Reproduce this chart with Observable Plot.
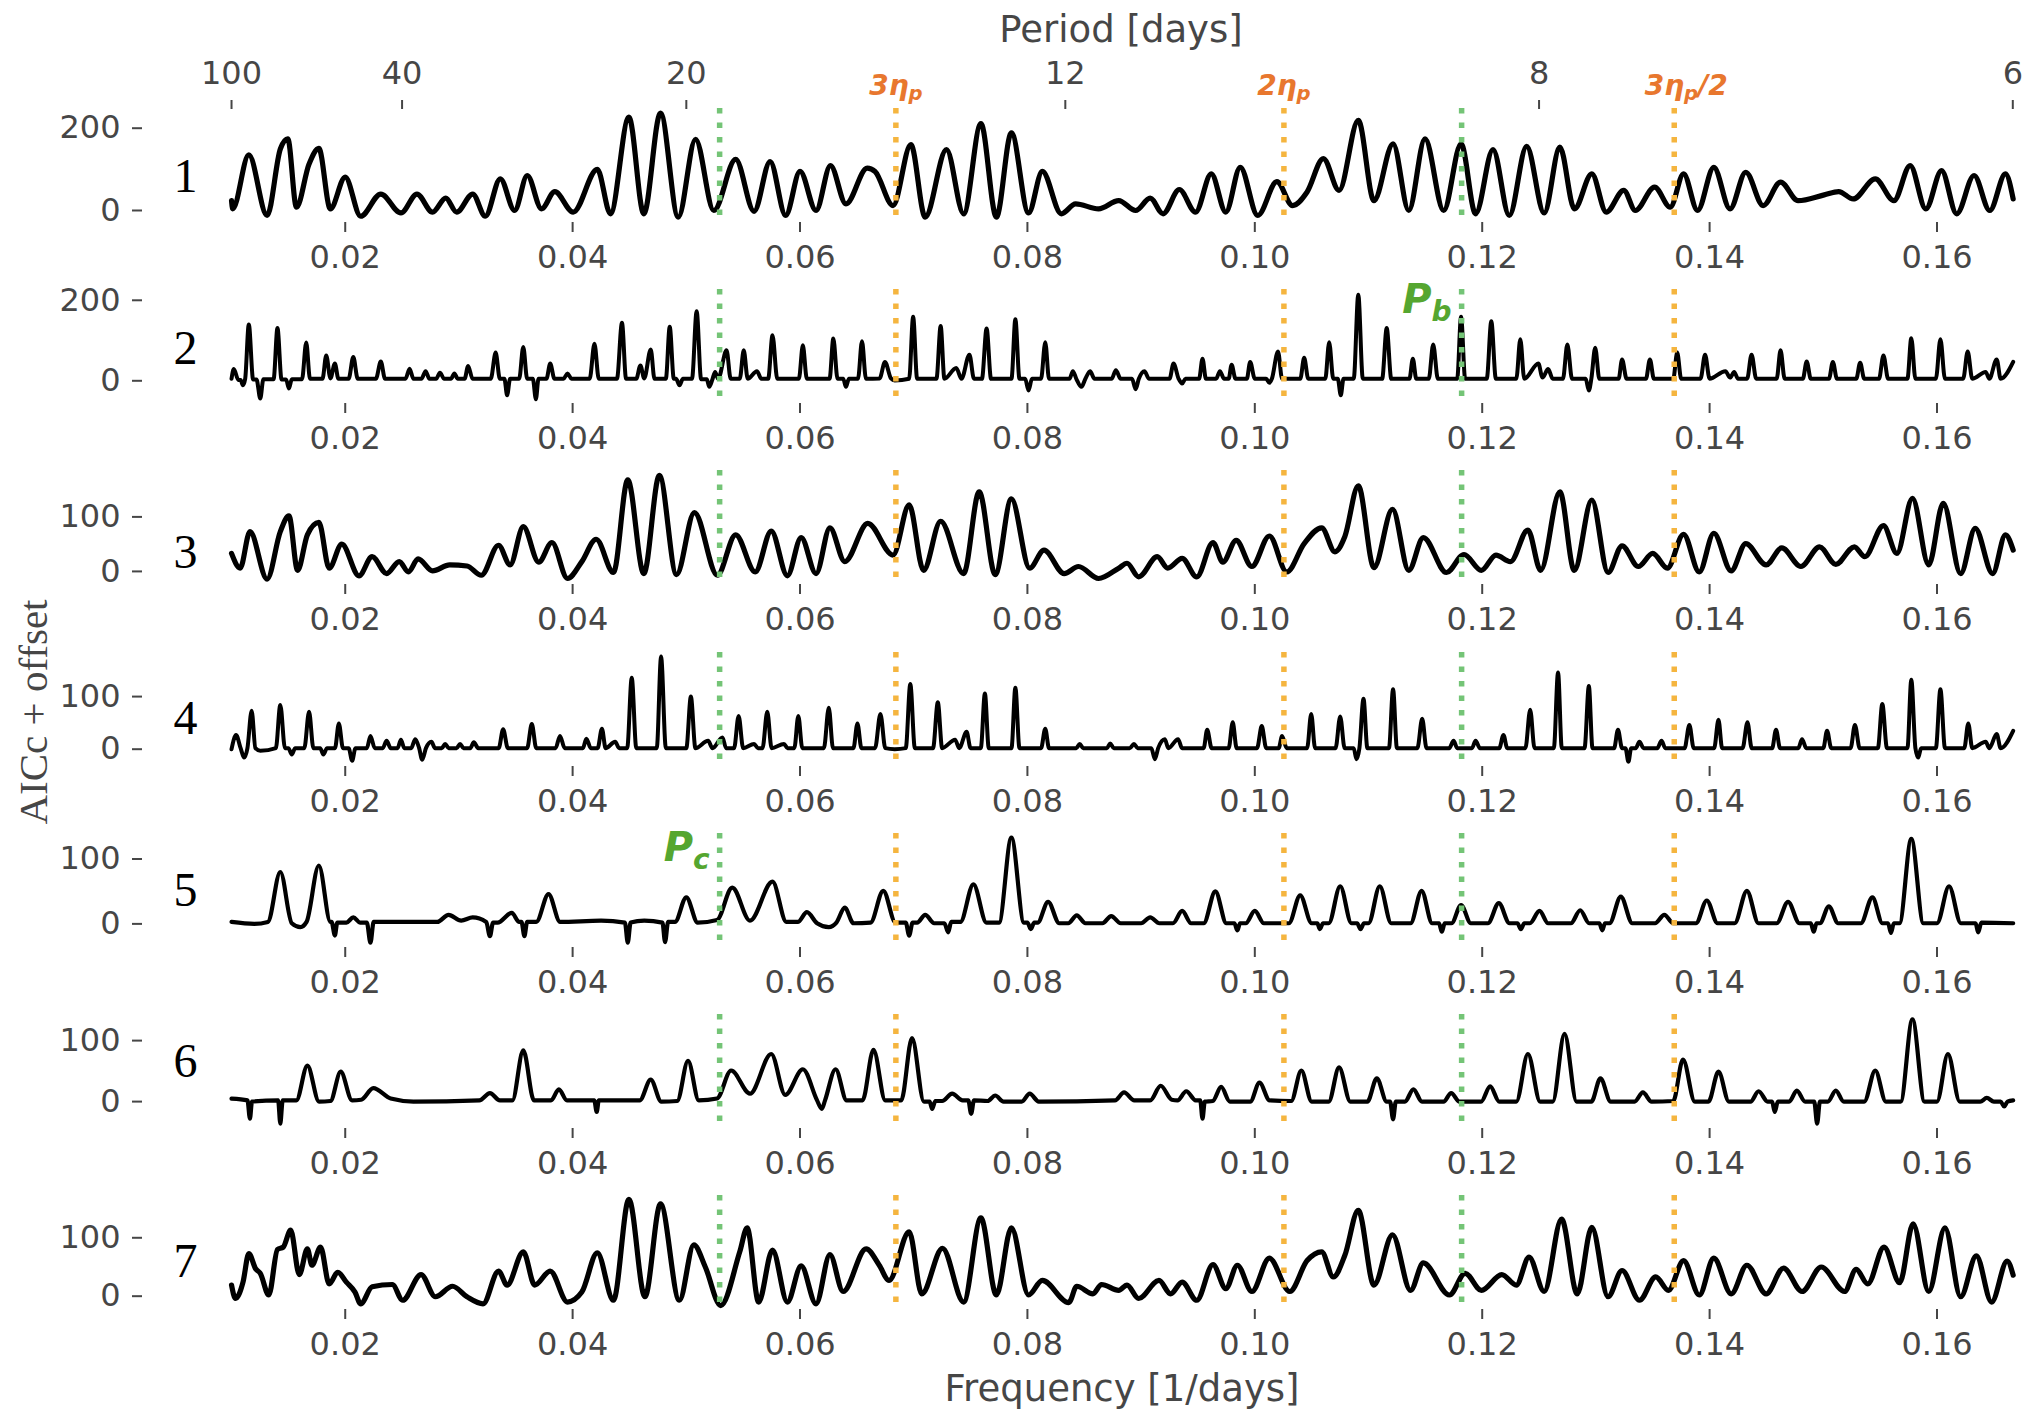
<!DOCTYPE html>
<html><head><meta charset="utf-8">
<script src="https://cdn.jsdelivr.net/npm/d3@7"></script>
<script src="https://cdn.jsdelivr.net/npm/@observablehq/plot@0.6"></script>
<style>
html,body{margin:0;padding:0;background:#fff;}
#fig{position:relative;width:2036px;height:1418px;overflow:hidden;background:#fff;}
.panel{position:absolute;left:0;}
.ttl{position:absolute;font-family:"DejaVu Sans";color:#464646;white-space:nowrap;font-size:37px;line-height:37px;}
</style></head><body><div id="fig"></div>
<script>
// ---------- data (frequency [1/days], AICc) ----------
const p1 = [[0.0100,24],[0.0101,4],[0.01152,135],[0.01313,-12],[0.0143,150],[0.01495,174],[0.01571,8],[0.01682,113],[0.01768,151],[0.01869,4],[0.0200,81],[0.02136,-14],[0.02313,40],[0.0249,-6],[0.02631,40],[0.02768,-4],[0.02884,30],[0.0298,-4],[0.03121,40],[0.03232,-14],[0.03364,77],[0.0349,0],[0.03601,85],[0.03727,4],[0.03843,46],[0.04005,-4],[0.04217,100],[0.04333,-8],[0.04495,227],[0.04626,-8],[0.04773,237],[0.04929,-16],[0.05081,173],[0.05242,0],[0.05434,124],[0.05596,-2],[0.05737,119],[0.05874,-12],[0.0600,95],[0.06141,0],[0.06268,109],[0.06404,16],[0.06591,103],[0.0666,95],[0.06818,12],[0.06975,160],[0.07101,-16],[0.07288,148],[0.07439,-8],[0.07591,211],[0.07727,-16],[0.07859,189],[0.0801,-6],[0.08131,95],[0.08298,-8],[0.08424,16],[0.08626,4],[0.08803,24],[0.08952,0],[0.0908,30],[0.09193,-8],[0.09336,51],[0.09479,-4],[0.09617,89],[0.09745,-4],[0.09872,105],[0.10026,-12],[0.10194,70],[0.10332,12],[0.1046,45],[0.10603,126],[0.10741,49],[0.1091,219],[0.11048,24],[0.11216,162],[0.11354,0],[0.11497,174],[0.11661,0],[0.11814,162],[0.11942,-8],[0.12095,148],[0.12238,-12],[0.12391,156],[0.12545,-6],[0.12683,154],[0.12811,4],[0.12964,89],[0.13091,-4],[0.13245,49],[0.13347,0],[0.13516,57],[0.13654,8],[0.13771,89],[0.13894,0],[0.14037,105],[0.1418,4],[0.14318,93],[0.14471,12],[0.14624,69],[0.14778,24],[0.15008,38],[0.15135,46],[0.15263,28],[0.15457,77],[0.15621,24],[0.15764,109],[0.15902,4],[0.1604,97],[0.16173,-8],[0.16326,85],[0.16464,0],[0.16602,89],[0.1667,28]];

const p2 = [[0.0100,5],[0.0102,29],[0.0106,2],[0.0108,2],[0.0110,-11],[0.0112,5],[0.01152,140],[0.0119,3],[0.0122,3],[0.01253,-44],[0.0128,4],[0.0137,4],[0.01404,131],[0.0144,3],[0.0148,3],[0.01505,-19],[0.0153,4],[0.0162,4],[0.01657,95],[0.0169,5],[0.0180,5],[0.01833,63],[0.0187,6],[0.01909,43],[0.0194,5],[0.0203,5],[0.02071,59],[0.0211,5],[0.0227,5],[0.02313,48],[0.0235,5],[0.0253,5],[0.02566,30],[0.0260,5],[0.0267,5],[0.02707,24],[0.0274,5],[0.0280,5],[0.02833,20],[0.0287,5],[0.0293,5],[0.0296,18],[0.0299,5],[0.0305,5],[0.03081,37],[0.0312,5],[0.0328,5],[0.03323,70],[0.0336,5],[0.0340,5],[0.03424,-36],[0.0345,5],[0.0353,5],[0.03566,84],[0.0360,5],[0.0365,5],[0.03677,-46],[0.0370,5],[0.0377,5],[0.03803,43],[0.0384,5],[0.0392,5],[0.03955,18],[0.0399,5],[0.0415,5],[0.04192,92],[0.0423,5],[0.0439,5],[0.04434,144],[0.0447,5],[0.0456,5],[0.04596,38],[0.0463,6],[0.04687,78],[0.0472,5],[0.0482,5],[0.04854,134],[0.0489,5],[0.0491,5],[0.0494,-11],[0.0497,5],[0.0505,5],[0.05091,173],[0.0513,4],[0.0518,4],[0.05202,-15],[0.0523,4],[0.05253,22],[0.0528,5],[0.05354,76],[0.0539,5],[0.0547,5],[0.05505,76],[0.0554,5],[0.05621,24],[0.0566,5],[0.0572,5],[0.05758,113],[0.0580,5],[0.0599,5],[0.06025,88],[0.0606,5],[0.0626,5],[0.06293,105],[0.0633,5],[0.0638,5],[0.06404,-15],[0.0643,5],[0.0651,5],[0.06545,98],[0.0658,5],[0.0670,6],[0.06747,47],[0.0680,6],[0.06833,1],[0.0696,5],[0.06995,159],[0.0703,5],[0.0720,5],[0.07237,136],[0.0727,5],[0.07374,32],[0.0742,5],[0.0749,65],[0.0753,5],[0.0760,5],[0.07641,130],[0.0768,5],[0.0786,5],[0.07894,153],[0.0793,5],[0.0798,5],[0.0801,-24],[0.0804,5],[0.0812,5],[0.08157,96],[0.0819,5],[0.0837,5],[0.084,24],[0.0843,5],[0.08475,-15],[0.0851,5],[0.08551,24],[0.0859,5],[0.0874,5],[0.08778,26],[0.0882,5],[0.0892,5],[0.08952,-21],[0.0898,5],[0.09029,24],[0.0907,5],[0.0925,5],[0.09285,43],[0.0933,5],[0.09361,-7],[0.0939,5],[0.0951,5],[0.0954,55],[0.0957,5],[0.0966,5],[0.09693,24],[0.0973,5],[0.0977,5],[0.09796,40],[0.0983,5],[0.0993,5],[0.09959,47],[0.1000,5],[0.1010,5],[0.10128,-5],[0.1015,5],[0.10204,73],[0.1024,5],[0.1040,5],[0.10434,57],[0.1047,5],[0.1062,5],[0.10654,96],[0.1069,5],[0.1073,5],[0.10756,-36],[0.1078,5],[0.1087,5],[0.1091,214],[0.1095,5],[0.1112,5],[0.1116,131],[0.1120,5],[0.1136,5],[0.1139,55],[0.1142,5],[0.1153,5],[0.11569,90],[0.1161,5],[0.1178,5],[0.11814,159],[0.1185,5],[0.1204,5],[0.1208,148],[0.1212,5],[0.1230,5],[0.12335,103],[0.1237,5],[0.12494,43],[0.1253,8],[0.1258,29],[0.1262,5],[0.1271,5],[0.12749,90],[0.1279,5],[0.1291,5],[0.12938,-24],[0.1296,5],[0.12994,82],[0.1303,5],[0.1320,5],[0.1323,53],[0.1327,5],[0.1344,5],[0.13475,53],[0.1351,5],[0.1368,5],[0.13715,70],[0.1375,5],[0.1392,5],[0.1396,65],[0.1400,5],[0.14139,24],[0.1418,8],[0.14216,22],[0.1425,5],[0.1433,5],[0.14369,65],[0.1441,5],[0.1459,5],[0.14624,76],[0.1466,5],[0.1482,5],[0.14854,48],[0.1489,5],[0.1505,5],[0.15084,47],[0.1512,5],[0.1529,5],[0.15324,45],[0.1536,5],[0.1549,5],[0.15529,63],[0.1557,5],[0.1574,5],[0.15774,106],[0.1581,5],[0.1599,5],[0.1603,103],[0.1607,5],[0.1623,5],[0.1627,73],[0.1631,5],[0.16428,22],[0.1646,5],[0.16525,53],[0.1656,5],[0.1667,47]];

const p3 = [[0.0100,33],[0.01076,6],[0.01162,73],[0.01313,-14],[0.01429,73],[0.01505,102],[0.01581,2],[0.01667,67],[0.01768,90],[0.01859,6],[0.0197,50],[0.02121,-8],[0.02237,27],[0.02364,-4],[0.02475,18],[0.02556,-1],[0.02641,23],[0.02768,1],[0.02919,12],[0.03071,10],[0.03197,-7],[0.03348,48],[0.0345,12],[0.03566,82],[0.03702,17],[0.03818,53],[0.03955,-13],[0.04081,18],[0.04207,59],[0.04359,-2],[0.04485,168],[0.04626,-4],[0.04763,176],[0.04914,-6],[0.05071,108],[0.05273,-7],[0.05434,67],[0.05606,-1],[0.05747,74],[0.05889,-8],[0.0601,62],[0.06141,-4],[0.06263,80],[0.06394,18],[0.06596,88],[0.06818,30],[0.0696,122],[0.07086,2],[0.07237,92],[0.07439,-4],[0.07576,146],[0.07717,-6],[0.07859,133],[0.0802,6],[0.08146,39],[0.08323,-4],[0.08449,9],[0.08626,-13],[0.08803,6],[0.08876,15],[0.08978,-10],[0.09142,27],[0.09234,6],[0.09361,24],[0.09489,-10],[0.09632,53],[0.09719,17],[0.09836,57],[0.09974,9],[0.10128,65],[0.10281,-1],[0.10434,51],[0.10588,80],[0.10705,36],[0.10792,64],[0.1091,157],[0.11048,7],[0.11211,114],[0.11354,2],[0.11482,62],[0.11686,-2],[0.1184,31],[0.11993,2],[0.12121,30],[0.12248,18],[0.12402,76],[0.12514,2],[0.12683,146],[0.1281,2],[0.12964,131],[0.13107,-2],[0.1323,47],[0.13373,9],[0.135,33],[0.13628,6],[0.13771,68],[0.13909,-1],[0.14037,70],[0.1419,1],[0.14318,51],[0.14497,12],[0.14635,43],[0.14803,9],[0.14967,45],[0.1511,13],[0.15273,45],[0.15365,27],[0.15529,84],[0.15647,33],[0.15784,134],[0.15927,12],[0.16055,125],[0.16208,-4],[0.16336,79],[0.16489,-4],[0.16602,67],[0.1667,39]];

const p4 = [[0.0100,0],[0.0104,27],[0.0108,2],[0.01111,-16],[0.0114,2],[0.01177,73],[0.0121,2],[0.01253,-3],[0.0139,2],[0.01429,84],[0.0147,2],[0.0150,2],[0.0153,-10],[0.0156,2],[0.0164,2],[0.01682,71],[0.0172,2],[0.0178,2],[0.01808,-10],[0.0184,2],[0.0191,2],[0.01944,49],[0.0198,2],[0.0203,2],[0.02061,-22],[0.0209,2],[0.0219,2],[0.02222,25],[0.0226,2],[0.0233,2],[0.02364,16],[0.0240,2],[0.0246,2],[0.0249,18],[0.0252,2],[0.0258,2],[0.02616,19],[0.0265,2],[0.02677,-20],[0.0271,2],[0.02758,14],[0.0279,2],[0.0285,2],[0.02879,10],[0.0291,2],[0.0298,2],[0.0301,10],[0.0304,2],[0.0310,2],[0.03131,13],[0.0317,2],[0.0335,2],[0.03389,38],[0.0343,2],[0.0360,2],[0.03641,48],[0.0368,2],[0.0385,2],[0.03889,25],[0.0393,2],[0.0409,2],[0.04121,20],[0.0416,2],[0.0422,2],[0.04258,39],[0.0429,2],[0.04374,14],[0.0441,2],[0.0448,2],[0.0452,136],[0.0456,2],[0.0474,2],[0.04778,176],[0.0482,2],[0.0500,2],[0.0504,100],[0.0508,2],[0.05192,16],[0.0523,2],[0.05318,22],[0.0535,2],[0.0542,2],[0.0546,63],[0.0550,2],[0.05596,10],[0.0563,2],[0.0567,2],[0.05712,71],[0.0575,2],[0.05859,10],[0.0589,2],[0.0595,2],[0.05985,63],[0.0602,2],[0.0621,2],[0.06253,79],[0.0629,2],[0.0647,2],[0.06505,49],[0.0654,2],[0.0666,2],[0.06707,67],[0.0675,2],[0.06833,0],[0.0693,2],[0.0697,124],[0.0701,2],[0.0717,2],[0.07212,89],[0.0725,2],[0.07364,18],[0.0740,2],[0.07465,33],[0.0750,2],[0.0759,2],[0.07626,106],[0.0766,2],[0.0786,2],[0.07894,117],[0.0793,2],[0.0812,2],[0.08157,39],[0.0819,2],[0.0843,2],[0.0846,10],[0.0849,2],[0.0870,2],[0.08727,11],[0.0876,2],[0.0890,2],[0.08937,10],[0.0897,2],[0.0909,2],[0.09121,-19],[0.0915,2],[0.09208,19],[0.0924,2],[0.09325,19],[0.0936,2],[0.0955,2],[0.09581,37],[0.0962,2],[0.0977,2],[0.09806,51],[0.0984,2],[0.1002,2],[0.10061,44],[0.1010,2],[0.1021,2],[0.1024,25],[0.1028,2],[0.1046,2],[0.10496,67],[0.1053,2],[0.1071,2],[0.10751,62],[0.1079,2],[0.1087,2],[0.10894,-19],[0.1092,2],[0.10956,96],[0.1099,2],[0.1118,2],[0.11216,114],[0.1125,2],[0.1143,2],[0.11472,58],[0.1151,2],[0.1171,2],[0.11748,16],[0.1178,2],[0.1191,2],[0.11942,16],[0.1198,2],[0.1215,2],[0.12187,27],[0.1222,2],[0.1238,2],[0.12422,75],[0.1246,2],[0.1263,2],[0.12667,146],[0.1270,2],[0.1290,2],[0.12938,120],[0.1297,2],[0.1316,2],[0.13194,37],[0.1323,2],[0.1326,2],[0.13286,-24],[0.1331,2],[0.1335,2],[0.13383,14],[0.1342,2],[0.1354,2],[0.13577,16],[0.1361,2],[0.1378,2],[0.13822,46],[0.1386,2],[0.1404,2],[0.14078,56],[0.1411,2],[0.1429,2],[0.14333,51],[0.1437,2],[0.1455,2],[0.14584,37],[0.1462,2],[0.1478,2],[0.14813,19],[0.1485,2],[0.1500,2],[0.15033,35],[0.1507,2],[0.1524,2],[0.15278,46],[0.1532,2],[0.1548,2],[0.15519,86],[0.1556,2],[0.1574,2],[0.15774,132],[0.1581,2],[0.15835,-16],[0.1586,2],[0.1599,2],[0.1603,114],[0.1607,2],[0.1624,2],[0.16275,49],[0.1631,2],[0.16428,14],[0.1646,2],[0.16525,29],[0.1656,2],[0.1667,35]];

const p5 = [[0.0100,3],[0.0120,0],[0.0132,3],[0.01429,80],[0.0153,1],[0.01606,-5],[0.0166,3],[0.01768,90],[0.0187,3],[0.0188,3],[0.01909,-18],[0.0193,2],[0.0201,2],[0.02071,10],[0.0213,2],[0.0219,2],[0.02222,-29],[0.0225,3],[0.0281,3],[0.02909,14],[0.0302,5],[0.03121,10],[0.0324,3],[0.03273,-19],[0.0330,2],[0.0334,2],[0.03465,17],[0.0353,3],[0.0355,3],[0.03576,-19],[0.0360,3],[0.0368,3],[0.03788,46],[0.0389,3],[0.0425,5],[0.0446,2],[0.04485,-29],[0.0451,2],[0.0463,5],[0.0479,2],[0.04813,-28],[0.0484,3],[0.0490,3],[0.05,41],[0.0510,2],[0.0527,6],[0.05404,56],[0.0556,5],[0.05758,65],[0.0588,3],[0.0598,3],[0.06061,18],[0.0615,1],[0.06253,-5],[0.0632,2],[0.06394,25],[0.0647,1],[0.0662,2],[0.06732,51],[0.0684,2],[0.0693,2],[0.0696,-18],[0.0699,2],[0.0703,2],[0.07101,14],[0.0718,1],[0.0727,1],[0.07303,-13],[0.0733,3],[0.0741,3],[0.07525,61],[0.0764,2],[0.0775,2],[0.07859,133],[0.0797,2],[0.0800,2],[0.0803,-8],[0.0806,2],[0.0809,2],[0.08182,34],[0.0828,1],[0.0836,1],[0.08434,13],[0.0851,1],[0.0866,1],[0.08737,12],[0.0882,1],[0.0900,1],[0.0908,10],[0.0916,1],[0.0928,1],[0.09361,20],[0.0944,1],[0.0955,1],[0.09653,50],[0.0975,1],[0.0982,1],[0.09847,-10],[0.0987,1],[0.0992,1],[0.1,20],[0.1008,1],[0.1030,1],[0.10399,44],[0.1050,1],[0.1055,1],[0.10572,-8],[0.1060,1],[0.1065,1],[0.10751,58],[0.1085,1],[0.1090,1],[0.1093,-8],[0.1096,1],[0.1100,1],[0.11099,58],[0.1120,1],[0.1137,1],[0.11467,51],[0.1156,1],[0.1162,1],[0.11645,-12],[0.1167,1],[0.1173,1],[0.11814,29],[0.1190,1],[0.1205,1],[0.12146,32],[0.1224,1],[0.1231,1],[0.1234,-8],[0.1237,1],[0.1242,1],[0.12504,20],[0.1258,1],[0.1278,1],[0.12862,21],[0.1294,1],[0.1303,1],[0.13056,-10],[0.1308,1],[0.1312,1],[0.13219,42],[0.1332,1],[0.1352,1],[0.13602,14],[0.1368,1],[0.1388,1],[0.13975,36],[0.1407,1],[0.1422,1],[0.14328,51],[0.1443,1],[0.1459,1],[0.1469,34],[0.1479,1],[0.1489,1],[0.14916,-12],[0.1494,1],[0.1497,1],[0.15049,27],[0.1513,1],[0.1533,1],[0.15432,41],[0.1552,1],[0.1557,1],[0.15595,-14],[0.1562,1],[0.1567,1],[0.15774,131],[0.1588,1],[0.1600,1],[0.16106,58],[0.1621,1],[0.1634,1],[0.16362,-13],[0.1639,2],[0.1667,1]];

const p6 = [[0.0100,5],[0.0114,2],[0.01162,-28],[0.0118,0],[0.0141,2],[0.01429,-36],[0.0145,2],[0.0157,2],[0.01667,59],[0.0177,0],[0.0187,1],[0.0196,49],[0.0206,2],[0.0214,3],[0.02247,22],[0.0240,5],[0.0260,0],[0.0318,2],[0.03273,14],[0.0336,2],[0.0347,2],[0.03566,84],[0.0366,2],[0.0381,2],[0.03879,20],[0.0395,2],[0.0419,2],[0.04212,-17],[0.0423,2],[0.0459,2],[0.04687,36],[0.0478,0],[0.0492,1],[0.05015,67],[0.0511,2],[0.0527,5],[0.05394,51],[0.0556,13],[0.05747,78],[0.0587,11],[0.06025,53],[0.0615,2],[0.06192,-12],[0.0622,2],[0.06313,53],[0.0641,2],[0.0655,2],[0.06646,85],[0.0675,2],[0.0689,2],[0.06985,104],[0.0709,0],[0.0714,0],[0.07162,-12],[0.0719,1],[0.0725,1],[0.07338,13],[0.0743,2],[0.0748,2],[0.07505,-20],[0.0753,2],[0.0765,1],[0.07717,10],[0.0779,0],[0.0795,0],[0.0802,13],[0.0810,0],[0.0877,2],[0.0885,15],[0.0894,2],[0.0908,2],[0.09172,26],[0.0927,3],[0.0932,2],[0.09397,17],[0.0948,2],[0.0952,2],[0.0954,-28],[0.0956,0],[0.0963,1],[0.09704,24],[0.0978,0],[0.0996,0],[0.10041,31],[0.1013,2],[0.1032,1],[0.10409,51],[0.1050,0],[0.1065,0],[0.10741,56],[0.1084,0],[0.1099,0],[0.11073,38],[0.1116,0],[0.1119,0],[0.11216,-29],[0.1124,0],[0.1132,0],[0.11395,20],[0.1147,0],[0.1166,0],[0.11727,14],[0.1180,0],[0.1199,0],[0.1207,25],[0.1215,0],[0.1230,0],[0.12402,78],[0.1251,0],[0.1262,0],[0.12724,111],[0.1283,0],[0.1296,0],[0.1304,38],[0.1313,0],[0.1334,0],[0.13413,15],[0.1349,0],[0.1368,1],[0.13766,69],[0.1387,0],[0.1399,0],[0.14078,49],[0.1417,0],[0.1436,0],[0.14431,17],[0.1451,0],[0.1455,0],[0.14573,-17],[0.1460,0],[0.1470,0],[0.14767,18],[0.1484,0],[0.1492,0],[0.14946,-36],[0.1497,0],[0.1504,0],[0.1511,18],[0.1518,0],[0.1536,0],[0.15457,51],[0.1555,0],[0.1568,0],[0.15784,135],[0.1589,0],[0.1600,0],[0.16096,78],[0.1620,0],[0.1638,0],[0.16438,6],[0.1650,0],[0.1656,0],[0.16591,-8],[0.1662,0],[0.1667,2]];

const p7 = [[0.0100,19],[0.01035,-4],[0.01101,24],[0.01152,73],[0.01212,47],[0.01253,39],[0.01328,2],[0.01404,80],[0.01455,84],[0.0152,113],[0.01596,37],[0.01667,81],[0.01707,53],[0.01783,84],[0.01859,21],[0.01934,41],[0.0201,24],[0.02086,7],[0.02136,-13],[0.02237,16],[0.02414,20],[0.02505,-7],[0.02667,37],[0.02793,-1],[0.02944,17],[0.03071,-1],[0.03212,-13],[0.03348,43],[0.03424,19],[0.03566,76],[0.03667,19],[0.03803,43],[0.03955,-10],[0.04081,7],[0.04217,74],[0.04359,-7],[0.04495,166],[0.04636,-1],[0.04773,158],[0.04939,-7],[0.05066,88],[0.05167,50],[0.05303,-16],[0.0547,76],[0.05535,117],[0.05636,-10],[0.05758,79],[0.05889,-10],[0.0601,52],[0.06141,-13],[0.06263,71],[0.06379,8],[0.06581,81],[0.06697,53],[0.06783,27],[0.0696,110],[0.07071,4],[0.07253,82],[0.07439,-10],[0.07591,134],[0.07727,2],[0.07859,117],[0.0801,2],[0.08131,27],[0.08364,-11],[0.08434,17],[0.08576,4],[0.08652,20],[0.08803,10],[0.08876,19],[0.08978,-4],[0.09157,27],[0.09259,4],[0.09361,24],[0.09489,-7],[0.09632,54],[0.09745,13],[0.09847,53],[0.09974,8],[0.10128,65],[0.10307,8],[0.1046,61],[0.10588,76],[0.1069,33],[0.10792,70],[0.1091,147],[0.11048,19],[0.11211,105],[0.1137,10],[0.11482,57],[0.11712,2],[0.1185,39],[0.11993,10],[0.12172,37],[0.123,19],[0.12412,67],[0.12545,8],[0.12698,132],[0.12836,4],[0.12964,118],[0.13107,-1],[0.1323,44],[0.13383,-7],[0.13526,33],[0.13638,10],[0.13771,61],[0.13909,2],[0.14037,65],[0.1419,4],[0.14328,53],[0.14497,4],[0.1465,48],[0.14813,8],[0.14982,50],[0.15187,8],[0.15289,46],[0.15391,21],[0.15534,84],[0.15672,23],[0.1579,124],[0.15927,8],[0.1607,117],[0.16208,-1],[0.16346,69],[0.1648,-10],[0.16617,60],[0.1667,36]];

const panels = [p1, p2, p3, p4, p5, p6, p7];
const panelNames = ["1", "2", "3", "4", "5", "6", "7"];
const yTicks = [[0, 200], [0, 200], [0, 100], [0, 100], [0, 100], [0, 100], [0, 100]];
const freqTicks = [0.02, 0.04, 0.06, 0.08, 0.10, 0.12, 0.14, 0.16];
const periodValues = [100, 40, 20, 12, 8, 6];
const periodLabels = ["100", "40", "20", "12", "8", "6"];
const greenLines = [0.05293, 0.11819];          // P_c, P_b
const orangeLines = [0.06843, 0.10256, 0.13689]; // 3η_p, 2η_p, 3η_p/2
const orangeLabels = ["3η_p", "2η_p", "3η_p/2"];
const planetLabels = [{panel: 1, f: 0.11819, v: 168, t: "P_b"}, {panel: 4, f: 0.05293, v: 97, t: "P_c"}];

// ---------- layout ----------
const W = 2036, ML = 142, MR = 23.7, AXH = 114, MB = 52;
const axesTops = [108, 289.2, 470.4, 651.6, 832.8, 1014, 1195.2];
const yDomains = [[-29.2, 247.9], [-56.4, 226.8], [-24, 185.1], [-32.9, 183.8], [-36.4, 139.3], [-44.1, 142.8], [-22.8, 172.4]];
const nameCenters = [176, 348, 552.5, 718, 889.5, 1061, 1261];
const lineWidths = [5.2, 4, 5.2, 4, 4.2, 4.2, 5.2];
const GREEN = "#74c476", ORANGE = "#f5b53f", ORANGE_TXT = "#e8772e", GREEN_TXT = "#55a630", GREY = "#464646";

const periodFreq = periodValues.map(p => 1 / p);
const periodMap = new Map(periodFreq.map((f, i) => [f, periodLabels[i]]));
const fig = document.getElementById("fig");

function subscripts(svg) {
  d3.select(svg).selectAll("text").each(function () {
    const t = this.textContent;
    if (!t.includes("_")) return;
    const fs = parseFloat(getComputedStyle(this).fontSize) || 28;
    const parts = t.split(/_(.)/);
    this.textContent = "";
    parts.forEach((p, i) => {
      if (!p) return;
      const ts = d3.select(this).append("tspan").text(p);
      if (i % 2 === 1) ts.attr("font-size", fs * 0.7).attr("dy", fs * 0.2);
      else if (i > 0) ts.attr("dy", -fs * 0.2);
    });
  });
}

panels.forEach((data, k) => {
  const MT = k === 0 ? 108 : 40;
  const top = axesTops[k];
  const marks = [
    Plot.axisY({ticks: yTicks[k], tickSize: 10, tickPadding: 12, label: null, strokeWidth: 2, fontSize: 32}),
    Plot.axisX({ticks: freqTicks, tickFormat: d3.format(".2f"), tickSize: 10, tickPadding: 13, label: null, strokeWidth: 2, fontSize: 32}),
    Plot.line(data, {x: d => d[0], y: d => d[1], curve: "monotone-x", stroke: "black", strokeWidth: lineWidths[k], strokeLinejoin: "round"}),
    Plot.ruleX(greenLines, {x: d => d, stroke: GREEN, strokeWidth: 5.5, strokeDasharray: "5.5,9"}),
    Plot.ruleX(orangeLines, {x: d => d, stroke: ORANGE, strokeWidth: 5.5, strokeDasharray: "5.5,9"}),
    Plot.text([panelNames[k]], {text: d => d, frameAnchor: "left", dx: 43, dy: nameCenters[k] - (top + AXH / 2),
      fontFamily: "Liberation Serif", fontSize: 48, fill: "black", textAnchor: "middle", lineAnchor: "middle"}),
    Plot.text(planetLabels.filter(d => d.panel === k), {x: "f", y: "v", text: "t", textAnchor: "end", dx: -10, lineAnchor: "bottom",
      fill: GREEN_TXT, fontWeight: "bold", fontStyle: "italic", fontSize: 40, fontFamily: "DejaVu Sans"})
  ];
  if (k === 0) {
    marks.push(
      Plot.axisX(periodFreq, {anchor: "top", tickFormat: d => periodMap.get(d), tickSize: 9, tickPadding: 16, label: null, strokeWidth: 2, fontSize: 32}),
      Plot.text(orangeLines.slice(0, 2), {x: d => d, text: (d, i) => orangeLabels[i], frameAnchor: "top", dy: -14, lineAnchor: "bottom",
        fill: ORANGE_TXT, fontWeight: "bold", fontStyle: "italic", fontSize: 28, fontFamily: "DejaVu Sans"}),
      Plot.text(orangeLines.slice(2), {x: d => d, text: () => orangeLabels[2], frameAnchor: "top", dy: -14, dx: 12, lineAnchor: "bottom",
        fill: ORANGE_TXT, fontWeight: "bold", fontStyle: "italic", fontSize: 28, fontFamily: "DejaVu Sans"})
    );
  }
  const svg = Plot.plot({
    width: W, height: MT + AXH + MB,
    marginLeft: ML, marginRight: MR, marginTop: MT, marginBottom: MB,
    x: {domain: [0.00217, 1 / 6]},
    y: {domain: yDomains[k]},
    style: {fontFamily: "DejaVu Sans", fontSize: "32px", color: GREY, background: "transparent", overflow: "visible"},
    marks
  });
  svg.classList.add("panel");
  svg.style.position = "absolute";
  svg.style.top = (top - MT) + "px";
  svg.style.left = "0px";
  svg.style.maxWidth = "none";
  fig.appendChild(svg);
  subscripts(svg);
});

// titles
function addTitle(text, cx, baseline) {
  const d = document.createElement("div");
  d.className = "ttl";
  d.textContent = text;
  d.style.left = cx + "px";
  d.style.top = (baseline - 31.3) + "px";
  d.style.transform = "translateX(-50%)";
  fig.appendChild(d);
}
addTitle("Period [days]", 1121, 42);
addTitle("Frequency [1/days]", 1122, 1401);
const yl = document.createElement("div");
yl.textContent = "AICc + offset";
Object.assign(yl.style, {position: "absolute", left: "33px", top: "712px", transform: "translate(-50%,-50%) rotate(-90deg)",
  fontFamily: "Liberation Serif", fontSize: "41px", lineHeight: "41px", color: GREY, whiteSpace: "nowrap"});
fig.appendChild(yl);
</script></body></html>
